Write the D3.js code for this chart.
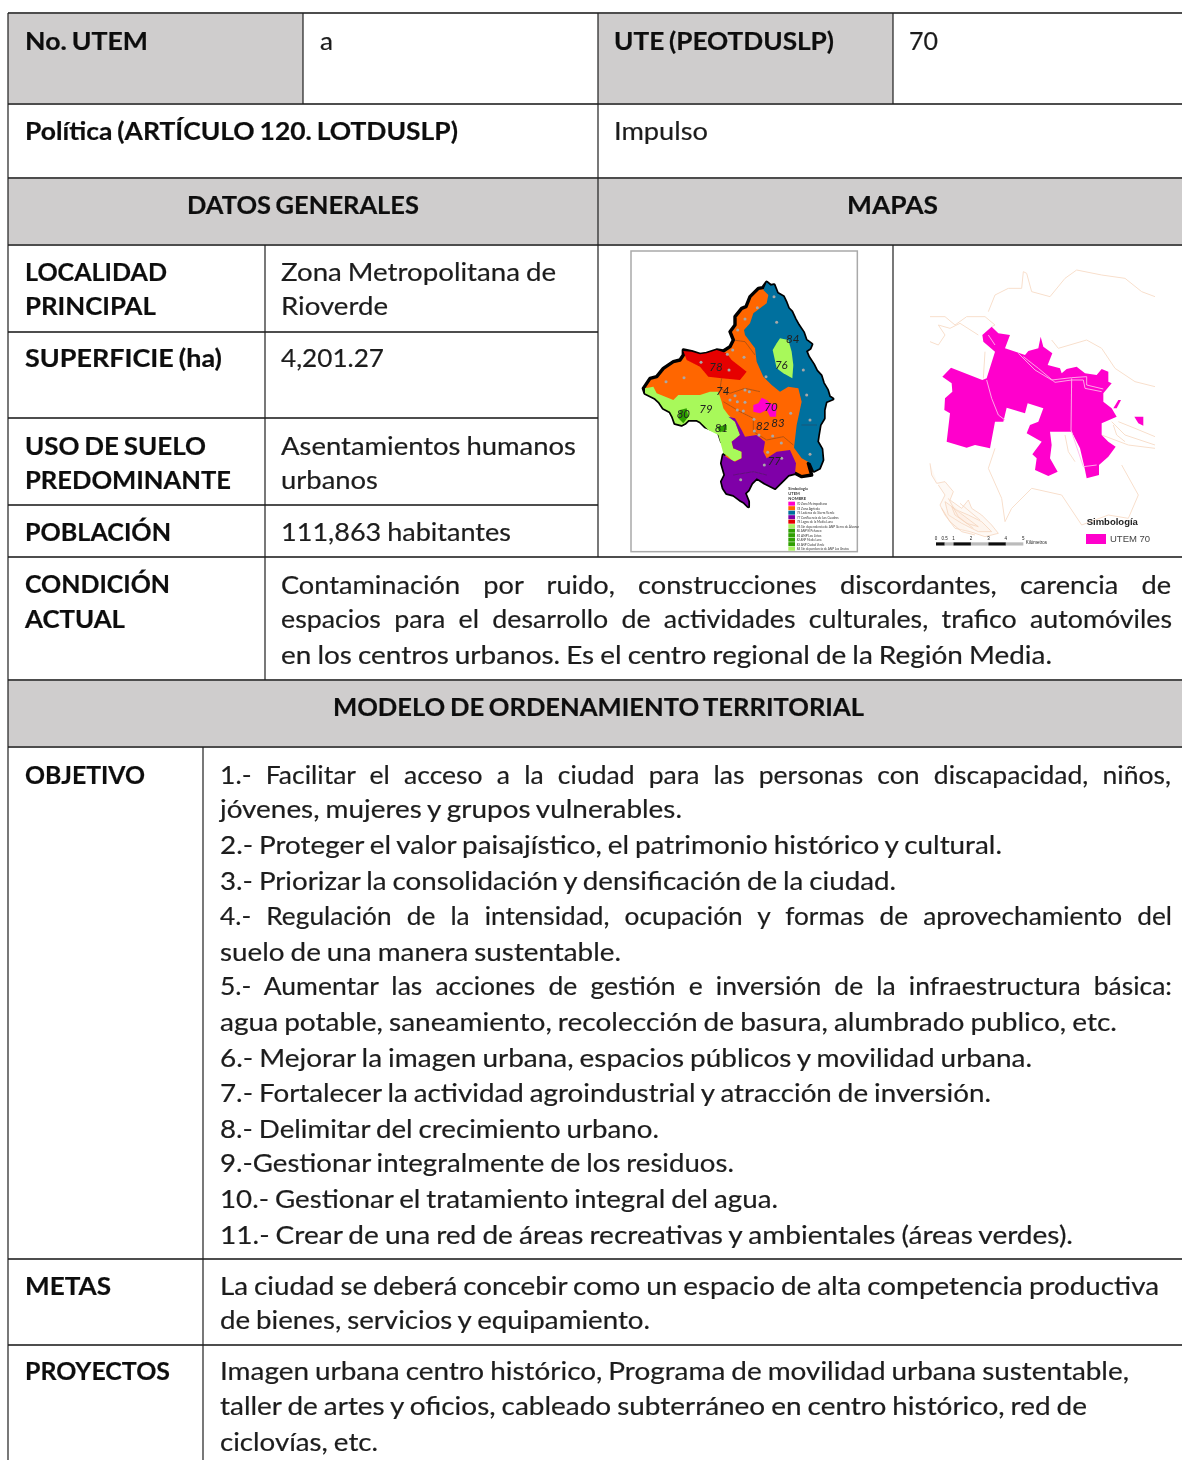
<!DOCTYPE html>
<html>
<head>
<meta charset="utf-8">
<script src="https://cdn.jsdelivr.net/npm/d3@7"></script>
<style>
  html, body { margin: 0; background: #fff; }
  svg { display: block; }
  text { font-family: Lato, Carlito, sans-serif; font-size: 25px; fill: #1c1c1c; }
  .plain, .just { stroke: #1c1c1c; stroke-width: 0.2px; word-spacing: -1px; }
  .bold { font-weight: 700; fill: #111; stroke: #111; stroke-width: 0.2px; word-spacing: -1.5px; }
</style>
</head>
<body>
<div id="chart"></div>
<script>
// table text, every string goes with a [x, baseline, right edge] in the same order
const boldTexts = ["No. UTEM", "UTE (PEOTDUSLP)", "Política (ARTÍCULO 120. LOTDUSLP)", "DATOS GENERALES", "MAPAS",
  "LOCALIDAD", "PRINCIPAL", "SUPERFICIE (ha)", "USO DE SUELO", "PREDOMINANTE", "POBLACIÓN", "CONDICIÓN", "ACTUAL",
  "MODELO DE ORDENAMIENTO TERRITORIAL", "OBJETIVO", "METAS", "PROYECTOS"];
const boldSpots = [[25,50,148],[614,50,834],[25,140,458],[187,214,419],[847,214,938],
  [25,281,167],[25,315,156],[25,367,222],[25,455,206],[25,489,231],[25,541,171],[25,593,170],[25,628,125],
  [333,716,864],[25,784,145],[25,1295,111],[25,1380,170]];

const plainTexts = ["a", "70", "Impulso", "Zona Metropolitana de", "Rioverde", "4,201.27", "Asentamientos humanos", "urbanos",
  "111,863 habitantes",
  "en los centros urbanos. Es el centro regional de la Región Media.",
  "jóvenes, mujeres y grupos vulnerables.",
  "2.- Proteger el valor paisajístico, el patrimonio histórico y cultural.",
  "3.- Priorizar la consolidación y densificación de la ciudad.",
  "suelo de una manera sustentable.",
  "agua potable, saneamiento, recolección de basura, alumbrado publico, etc.",
  "6.- Mejorar la imagen urbana, espacios públicos y movilidad urbana.",
  "7.- Fortalecer la actividad agroindustrial y atracción de inversión.",
  "8.- Delimitar del crecimiento urbano.",
  "9.-Gestionar integralmente de los residuos.",
  "10.- Gestionar el tratamiento integral del agua.",
  "11.- Crear de una red de áreas recreativas y ambientales (áreas verdes).",
  "La ciudad se deberá concebir como un espacio de alta competencia productiva",
  "de bienes, servicios y equipamiento.",
  "Imagen urbana centro histórico, Programa de movilidad urbana sustentable,",
  "taller de artes y oficios, cableado subterráneo en centro histórico, red de",
  "ciclovías, etc."];
const plainSpots = [[320,50,333],[909,50,938],[614,140,708],[281,281,556],[281,315,388],[281,367,384],[281,455,576],[281,489,378],
  [281,541,511],
  [281,664,1052],
  [220,818,682],[220,854,1002],[220,890,896],[220,961,621],[220,1031,1117],[220,1067,1032],[220,1102,991],
  [220,1138,659],[220,1172,734],[220,1208,778],[220,1244,1073],
  [220,1295,1159],[220,1329,650],[220,1380,1129],[220,1415,1087],[220,1451,378]];

// these lines are justified in the original, so the gaps are wider than in the rest
const justifiedTexts = ["Contaminación por ruido, construcciones discordantes, carencia de",
  "espacios para el desarrollo de actividades culturales, trafico automóviles",
  "1.- Facilitar el acceso a la ciudad para las personas con discapacidad, niños,",
  "4.- Regulación de la intensidad, ocupación y formas de aprovechamiento del",
  "5.- Aumentar las acciones de gestión e inversión de la infraestructura básica:"];
const justifiedSpots = [[281,594,1171],[281,628,1172],[220,784,1171],[220,925,1172],[220,995,1172]];
const justifiedGaps = [15, 6, 7, 8, 6];

// table grid
const shadedCells = [[8,13,303,104],[598,13,893,104],[8,178,1182,245],[8,680,1182,747]];
const rowLines = [[13,8,1182],[104,8,1182],[178,8,1182],[245,8,1182],[332,8,598],[418,8,598],[505,8,598],[557,8,1182],
  [680,8,1182],[747,8,1182],[1259,8,1182],[1345,8,1182]];
const colLines = [[8,13,1460],[303,13,104],[598,13,557],[893,13,104],[893,245,557],[265,245,680],[203,747,1460]];

// left map regions, in map units
const outline = [[440,112],[452,122],[462,120],[472,145],[490,155],[498,172],[505,190],[515,200],[525,222],[535,240],[550,262],[558,285],[575,298],[570,310],[558,318],[565,335],[580,358],[590,378],[603,392],[610,415],[622,435],[628,455],[638,462],[618,470],[612,495],[612,520],[600,540],[595,570],[592,590],[605,612],[608,645],[598,670],[582,678],[572,655],[565,655],[575,690],[545,695],[525,685],[505,690],[490,705],[465,730],[450,722],[435,715],[420,705],[410,700],[395,715],[385,735],[375,745],[385,770],[385,785],[372,772],[360,765],[340,750],[320,745],[310,730],[305,710],[315,690],[305,655],[310,630],[335,610],[320,600],[305,590],[295,560],[280,555],[255,545],[240,530],[230,525],[205,525],[195,535],[185,540],[165,535],[158,515],[150,500],[130,490],[118,472],[105,460],[75,445],[70,430],[90,400],[110,395],[130,370],[160,350],[180,345],[190,330],[190,315],[215,320],[240,328],[260,325],[290,315],[310,318],[330,305],[340,285],[330,260],[345,240],[345,215],[365,190],[378,185],[390,155],[415,130],[428,128]];
const teal = [[440,112],[452,122],[462,120],[472,145],[490,155],[498,172],[505,190],[515,200],[525,222],[535,240],[550,262],[558,285],[575,298],[570,310],[558,318],[565,335],[580,358],[590,378],[603,392],[610,415],[622,435],[628,455],[638,462],[618,470],[612,495],[612,520],[600,540],[595,570],[592,590],[605,612],[608,645],[598,670],[582,678],[572,655],[545,640],[522,608],[530,540],[545,470],[535,430],[505,425],[480,440],[455,420],[430,395],[410,350],[405,310],[375,270],[372,255],[390,235],[400,205],[440,175],[445,150],[430,135]];
const red = [[190,318],[215,320],[240,328],[260,325],[290,315],[320,325],[335,345],[380,380],[360,405],[305,400],[265,395],[240,365],[200,345]];
const lime76 = [[480,280],[505,285],[515,320],[520,360],[517,400],[490,385],[470,370],[458,315],[470,295]];
const lime79 = [[75,430],[100,425],[110,445],[160,465],[175,450],[240,450],[270,440],[295,440],[305,470],[310,490],[325,510],[345,530],[360,570],[335,590],[340,610],[365,620],[365,640],[340,650],[325,635],[310,625],[295,570],[265,555],[240,530],[230,525],[205,525],[195,535],[185,540],[165,535],[158,515],[150,500],[130,490],[118,472],[105,460],[75,445]];
const green80 = [[180,495],[200,490],[205,515],[190,535],[175,520]];
const green81 = [[290,545],[320,540],[320,555],[300,562]];
const purple = [[325,515],[345,520],[365,555],[375,575],[410,570],[435,590],[430,620],[440,640],[470,620],[510,615],[528,655],[525,685],[505,690],[490,705],[465,730],[450,722],[435,715],[420,705],[410,700],[395,715],[385,735],[375,745],[385,770],[385,785],[372,772],[360,765],[340,750],[320,745],[310,730],[305,710],[315,690],[305,655],[310,630],[325,640],[345,650],[365,640],[365,620],[340,610],[335,590],[360,570],[345,530]];
const magenta = [[400,480],[415,475],[425,458],[440,465],[450,475],[470,480],[468,515],[450,515],[440,495],[420,505],[400,500]];
const innerBorders = [[[340,285],[375,290],[405,330]],[[305,400],[300,430],[330,445],[375,430],[420,440]],[[310,470],[360,500],[400,520],[400,560],[440,585],[490,575],[520,600]],[[340,690],[400,680],[440,690]],[[545,540],[590,540]]];

const mapLabels = ["78","76","84","74","79","80","81","70","82","83","77"];
const mapLabelSpots = [[288,365],[484,360],[518,283],[308,437],[258,492],[190,508],[304,548],[453,485],[428,542],[474,535],[463,647]];
const mapDots = [[243,352],[327,375],[322,328],[338,315],[372,337],[353,255],[375,222],[412,188],[462,155],[470,232],[438,395],[550,375],[560,450],[570,525],[512,505],[375,435],[388,440],[345,452],[330,465],[375,472],[352,495],[370,498],[402,523],[403,558],[417,570],[458,573],[484,594],[443,622],[433,660],[485,640],[570,628],[362,704],[192,398],[138,410],[352,470]];

const legendColors = ["#ff00cc","#ff6600","#006f9e","#7f00a8","#e60000","#a8f060","#2fa000","#2fa000","#2fa000","#2fa000","#a8f060"];
const legendNames = ["70 Zona Metropolitana","74 Zona Agrícola","75 Laderas de Sierra Verde","77 Confluencia de Los Cuadros","78 Lagos de la Media Luna","76 Sin dependencia de ANP Sierra de Álvarez","80 ANP El Peñasco","81 ANP Los Lirios","82 ANP Media Luna","83 ANP Ciudad Verde","84 Sin dependencia de ANP Las Grutas"];
const legendHead = ["Simbología","UTEM","NOMBRE"];

// right map
const utem70 = [[142,395],[168,368],[262,405],[275,400],[300,320],[265,290],[262,270],[290,245],[310,265],[345,270],[330,310],[390,330],[400,318],[430,310],[437,275],[445,305],[472,325],[458,360],[495,370],[500,385],[515,372],[545,365],[570,385],[605,390],[620,372],[640,380],[640,410],[650,415],[625,445],[625,470],[650,490],[665,515],[620,535],[620,570],[640,590],[662,605],[640,635],[612,660],[612,690],[575,700],[568,665],[555,610],[530,560],[465,560],[470,600],[465,640],[488,680],[460,693],[420,675],[425,640],[412,628],[440,590],[395,565],[405,540],[430,530],[445,490],[398,475],[390,505],[335,488],[325,530],[300,530],[285,610],[240,600],[215,608],[155,590],[165,505],[148,495],[150,460],[172,440],[170,415]];
const utemIslands = [[[718,515],[745,515],[745,542],[730,535]],[[655,490],[670,465],[678,465],[665,490]]];
const utemRoads = [[[370,325],[420,375],[470,405],[530,398],[575,395],[575,420],[625,432]],[[385,335],[430,370],[480,412],[530,405],[565,405],[570,430],[620,440]],[[275,405],[290,460],[310,510],[330,525]],[[530,400],[528,555],[565,665],[605,660]],[[280,270],[300,300]]];
const contours = [[[280,200],[300,150],[340,130],[380,130],[385,80],[395,85],[410,140],[465,155],[510,100],[545,75],[620,90],[690,100],[740,140],[780,155]],
  [[105,215],[150,215],[180,240],[215,215],[270,215],[300,240],[290,245]],
  [[105,290],[130,300],[150,270],[130,240],[165,250],[195,235],[250,270]],
  [[470,285],[490,310],[575,285],[620,310],[660,370],[720,410],[780,425]],
  [[270,320],[265,400]],
  [[300,610],[280,670],[320,760],[330,830],[350,790],[410,730],[500,750],[560,840],[640,810],[700,820],[730,750],[680,660]],
  [[650,530],[690,570],[780,600]],[[620,570],[700,600],[780,610]],[[670,530],[720,550],[780,575]],[[655,540],[665,570],[690,590]],
  [[510,570],[520,620],[540,650]]];
const ridge = [[[105,655],[110,690],[125,715],[150,710],[175,740],[165,765],[200,790],[220,765],[230,790],[260,810],[290,840],[310,865],[270,875],[225,860],[180,850],[150,810],[135,780],[150,750],[130,720]],
  [[150,770],[185,795],[220,810],[260,830],[290,860],[250,860],[200,835],[160,810],[150,770]],
  [[170,785],[210,815],[250,845],[215,835],[180,810],[170,785]],
  [[140,790],[165,830],[200,860],[240,870]],[[195,775],[225,800],[255,825]],[[160,760],[190,815],[235,850]]];
const scaleStops = [0,0.5,1,2,3,4,5];
const scaleBlocks = [0,1,3];

const width = 1182, height = 1460;
const svg = d3.select("#chart").append("svg").attr("width", width).attr("height", height);
const defs = svg.append("defs");
defs.append("filter").attr("id", "soft").attr("filterUnits", "userSpaceOnUse")
  .attr("x", 0).attr("y", 0).attr("width", width).attr("height", height)
  .append("feGaussianBlur").attr("stdDeviation", 0.3);
defs.append("filter").attr("id", "softMap").attr("filterUnits", "userSpaceOnUse")
  .attr("x", 0).attr("y", 0).attr("width", width).attr("height", height)
  .append("feGaussianBlur").attr("stdDeviation", 0.5);

// shading
svg.selectAll("rect.cell").data(shadedCells).enter().append("rect")
  .attr("class", "cell")
  .attr("x", d => d[0]).attr("y", d => d[1])
  .attr("width", d => d[2] - d[0]).attr("height", d => d[3] - d[1])
  .style("fill", "#cfcdcd");

// left map
let x1 = d3.scaleLinear().domain([0, 825]).range([620, 895]);
let y1 = d3.scaleLinear().domain([0, 945]).range([245, 560]);
let line1 = d3.line().x(d => x1(d[0])).y(d => y1(d[1]));
let shape1 = d3.line().x(d => x1(d[0])).y(d => y1(d[1])).curve(d3.curveLinearClosed);

let map1 = svg.append("g").attr("filter", "url(#softMap)");
map1.append("rect").attr("x", x1(33)).attr("y", y1(18))
  .attr("width", x1(712) - x1(33)).attr("height", y1(920) - y1(18))
  .style("fill", "#fff").style("stroke", "#a9a9a9").style("stroke-width", 1.5);
map1.append("path").attr("d", shape1(outline)).style("fill", "#ff6600").style("stroke", "#000").style("stroke-width", 3.4).style("stroke-linejoin", "round");

let regions = [[teal,"#006f9e"],[red,"#e60000"],[lime76,"#a8f95a"],[lime79,"#a8f95a"],[green80,"#2fa000"],[green81,"#2fa000"],[purple,"#7f00a8"],[magenta,"#ff00cc"]];
map1.selectAll("path.region").data(regions).enter().append("path")
  .attr("class", "region")
  .attr("d", d => shape1(d[0]))
  .style("fill", d => d[1]);
map1.selectAll("path.inner").data(innerBorders).enter().append("path")
  .attr("class", "inner").attr("d", line1)
  .style("fill", "none").style("stroke", "#333").style("stroke-width", 0.6).style("opacity", 0.6);
map1.selectAll("circle").data(mapDots).enter().append("circle")
  .attr("cx", d => x1(d[0])).attr("cy", d => y1(d[1])).attr("r", 1.5)
  .style("fill", "#a8a8a8");
map1.selectAll("text.num").data(mapLabels).enter().append("text")
  .attr("class", "num")
  .attr("x", (d, i) => x1(mapLabelSpots[i][0])).attr("y", (d, i) => y1(mapLabelSpots[i][1]) + 4)
  .attr("text-anchor", "middle")
  .style("font-size", "11.5px").style("font-style", "italic").style("fill", "#222")
  .text(d => d);

// legend of the left map
let legendY = d3.scaleLinear().domain([0, 10]).range([y1(770), y1(905)]);
map1.selectAll("rect.swatch").data(legendColors).enter().append("rect")
  .attr("class", "swatch")
  .attr("x", x1(505)).attr("y", (d, i) => legendY(i))
  .attr("width", x1(525) - x1(505)).attr("height", 4)
  .style("fill", d => d);
map1.selectAll("text.leg").data(legendNames).enter().append("text")
  .attr("class", "leg")
  .attr("x", x1(530)).attr("y", (d, i) => legendY(i) + 3.5)
  .attr("textLength", (d, i) => d.length * 1.45)
  .attr("lengthAdjust", "spacingAndGlyphs")
  .style("font-size", "3.5px").style("fill", "#333")
  .text(d => d);
map1.selectAll("text.head").data(legendHead).enter().append("text")
  .attr("class", "head")
  .attr("x", x1(505)).attr("y", (d, i) => y1(734 + i * 15))
  .style("font-size", "4px").style("fill", "#333").style("font-weight", 700)
  .text(d => d);

// right map
let x2 = d3.scaleLinear().domain([0, 861]).range([895, 1182]);
let y2 = d3.scaleLinear().domain([0, 945]).range([245, 560]);
let line2 = d3.line().x(d => x2(d[0])).y(d => y2(d[1]));
let shape2 = d3.line().x(d => x2(d[0])).y(d => y2(d[1])).curve(d3.curveLinearClosed);

let map2 = svg.append("g").attr("filter", "url(#softMap)");
map2.selectAll("path.contour").data(contours).enter().append("path")
  .attr("class", "contour").attr("d", line2)
  .style("fill", "none").style("stroke", "#f8dfcc").style("stroke-width", 1);
map2.selectAll("path.ridge").data(ridge).enter().append("path")
  .attr("class", "ridge").attr("d", line2)
  .style("fill", "#fbeadf").style("fill-opacity", 0.3)
  .style("stroke", "#f3d0b6").style("stroke-width", 0.7);
map2.append("path").attr("d", shape2(utem70)).style("fill", "#ff00cc");
map2.selectAll("path.island").data(utemIslands).enter().append("path")
  .attr("class", "island").attr("d", shape2).style("fill", "#ff00cc");
map2.selectAll("path.road").data(utemRoads).enter().append("path")
  .attr("class", "road").attr("d", line2)
  .style("fill", "none").style("stroke", "#ffb8ea").style("stroke-width", 0.9);

// scale bar, kilometres along the bottom
let km = d3.scaleLinear().domain([0, 5]).range([x2(123), x2(385)]);
map2.selectAll("rect.bar").data(scaleStops.slice(0, -1)).enter().append("rect")
  .attr("class", "bar")
  .attr("x", d => km(d)).attr("y", y2(892))
  .attr("width", (d, i) => km(scaleStops[i + 1]) - km(d)).attr("height", 3.2)
  .style("fill", (d, i) => i == 0 || scaleBlocks.includes(d) ? "#111" : "#bbb");
map2.selectAll("text.stop").data(scaleStops).enter().append("text")
  .attr("class", "stop")
  .attr("x", d => km(d)).attr("y", y2(884))
  .attr("text-anchor", "middle")
  .style("font-family", "'Liberation Sans'").style("font-size", "4.5px").style("fill", "#222")
  .text(d => d);
map2.append("text").attr("x", x2(392)).attr("y", y2(898))
  .style("font-family", "'Liberation Sans'").style("font-size", "4.5px").style("fill", "#222")
  .text("Kilómetros");
map2.append("text").attr("x", x2(575)).attr("y", y2(840))
  .style("font-family", "'Liberation Sans'").style("font-size", "9.5px").style("font-weight", 700).style("fill", "#222")
  .text("Simbología");
map2.append("rect").attr("x", x2(573)).attr("y", y2(867))
  .attr("width", x2(633) - x2(573)).attr("height", y2(897) - y2(867))
  .style("fill", "#ff00cc");
map2.append("text").attr("x", x2(645)).attr("y", y2(892))
  .style("font-family", "'Liberation Sans'").style("font-size", "9.5px").style("fill", "#444")
  .text("UTEM 70");

let rules = svg.append("g").attr("filter", "url(#soft)");
rules.selectAll("line.row").data(rowLines).enter().append("line")
  .attr("class", "row")
  .attr("x1", d => d[1]).attr("x2", d => d[2]).attr("y1", d => d[0]).attr("y2", d => d[0])
  .style("stroke", "#4d4d4d").style("stroke-width", 2);
rules.selectAll("line.col").data(colLines).enter().append("line")
  .attr("class", "col")
  .attr("x1", d => d[0]).attr("x2", d => d[0]).attr("y1", d => d[1]).attr("y2", d => d[2])
  .style("stroke", "#222").style("stroke-width", 1.2);

// text
let words = svg.append("g").attr("filter", "url(#soft)");

function fitted(strings, spots, cls) {
  words.selectAll("text." + cls).data(strings).enter().append("text")
    .attr("class", cls)
    .attr("x", (d, i) => spots[i][0])
    .attr("y", (d, i) => spots[i][1])
    .attr("textLength", (d, i) => spots[i][2] - spots[i][0])
    .attr("lengthAdjust", "spacingAndGlyphs")
    .text(d => d);
}
fitted(boldTexts, boldSpots, "bold");
fitted(plainTexts, plainSpots, "plain");
fitted(justifiedTexts, justifiedSpots, "just");
words.selectAll("text.just").style("word-spacing", (d, i) => justifiedGaps[i] + "px");
</script>
</body>
</html>
